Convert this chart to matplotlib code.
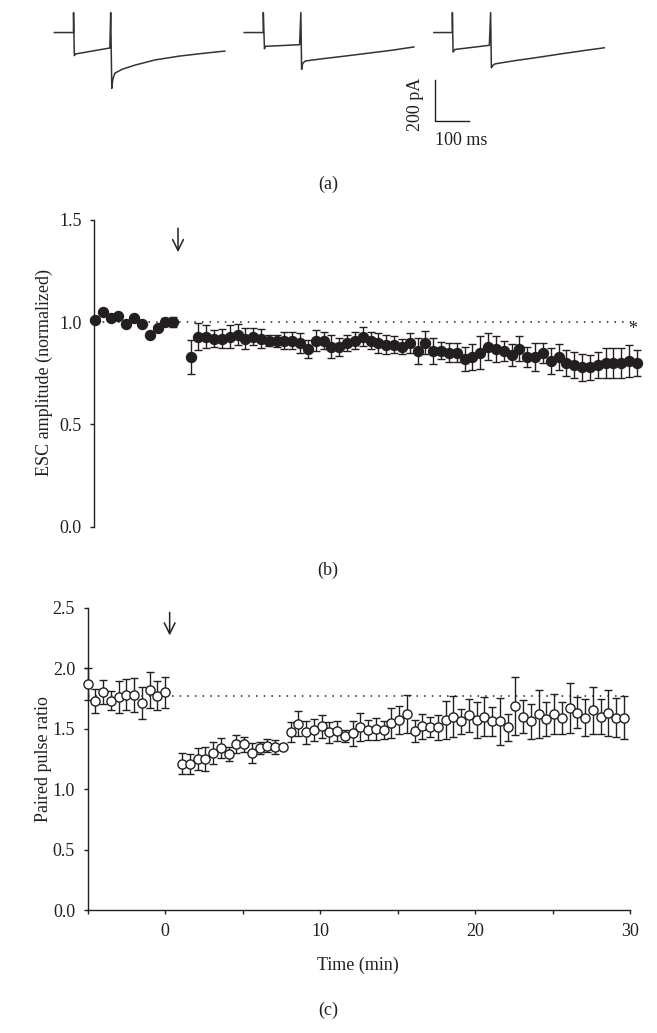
import matplotlib
matplotlib.use('Agg')
import matplotlib.pyplot as plt

plt.rcParams['font.family'] = ['Liberation Serif', 'DejaVu Serif']
plt.rcParams['font.size'] = 13

INK = '#231f20'
W, H = 657, 1033

# (a) example sweeps, vertices: time (ms), current (pA)
trace1_t = [0, 56, 56.3, 58.6, 62, 163, 165.5, 168.7, 172, 178, 200, 237, 296, 369, 443, 501]
trace1_i = [0, 0, 97, -112, -104, -75, 97, -271, -225, -197, -178, -158, -133, -114, -100, -90]
trace2_t = [0, 56, 56.3, 59.7, 62, 163, 166.7, 168.9, 172, 180, 231, 298, 366, 434, 499]
trace2_i = [0, 0, 97, -79, -67, -59, 97, -179, -150, -138, -127, -114, -100, -86, -70]
trace3_t = [0, 54, 54.3, 56.3, 62, 163, 166.7, 169, 173, 180, 236, 304, 372, 439, 501]
trace3_i = [0, 0, 97, -95, -82, -62, 97, -171, -160, -152, -137, -121, -104, -88, -74]
bar_pa = 200
bar_ms = 100

# (b), (c) time points (min)
time_base = [-5.0, -4.5, -4.0, -3.5, -3.0, -2.5, -2.0, -1.5, -1.0, -0.5, 0.0]
time_post = [1.1, 1.6, 2.1, 2.6, 3.1, 3.6, 4.1, 4.6, 5.1, 5.6,
             6.1, 6.6, 7.1, 7.6, 8.1, 8.6, 9.1, 9.6, 10.1, 10.6,
             11.1, 11.6, 12.1, 12.6, 13.1, 13.6, 14.1, 14.6, 15.1, 15.6,
             16.1, 16.6, 17.1, 17.6, 18.1, 18.6, 19.1, 19.6, 20.1, 20.6,
             21.1, 21.6, 22.1, 22.6, 23.1, 23.6, 24.1, 24.6, 25.1, 25.6,
             26.1, 26.6, 27.1, 27.6, 28.1, 28.6, 29.1, 29.6]

# (b) ESC amplitude (normalized), mean and SEM
esc_base = [1.01, 1.05, 1.02, 1.03, 0.99, 1.02, 0.99, 0.94, 0.97, 1.00, 1.00]
esc_base_sem = [0.01, 0.01, 0.01, 0.01, 0.01, 0.01, 0.01, 0.01, 0.01, 0.02, 0.025]
esc_post = [0.83, 0.93, 0.93, 0.92, 0.92, 0.93, 0.94, 0.92, 0.93, 0.92,
            0.91, 0.91, 0.91, 0.91, 0.90, 0.87, 0.91, 0.91, 0.88, 0.88,
            0.90, 0.91, 0.93, 0.91, 0.90, 0.89, 0.89, 0.88, 0.90, 0.86,
            0.90, 0.86, 0.86, 0.85, 0.85, 0.82, 0.83, 0.85, 0.88, 0.87,
            0.86, 0.84, 0.87, 0.83, 0.83, 0.85, 0.81, 0.83, 0.80, 0.79,
            0.78, 0.78, 0.79, 0.80, 0.80, 0.80, 0.81, 0.80]
esc_post_sem = [0.085, 0.066, 0.056, 0.040, 0.046, 0.057, 0.052, 0.050, 0.042, 0.048,
                0.027, 0.030, 0.040, 0.040, 0.049, 0.044, 0.051, 0.043, 0.056, 0.045,
                0.040, 0.041, 0.047, 0.041, 0.049, 0.046, 0.041, 0.036, 0.049, 0.065,
                0.057, 0.062, 0.041, 0.046, 0.046, 0.057, 0.062, 0.081, 0.065, 0.065,
                0.049, 0.052, 0.062, 0.049, 0.068, 0.049, 0.062, 0.065, 0.062, 0.065,
                0.067, 0.062, 0.065, 0.073, 0.073, 0.073, 0.078, 0.062]
esc_ref = 1.0

# (c) paired pulse ratio, mean and SEM
ppr_base = [1.87, 1.73, 1.80, 1.73, 1.76, 1.78, 1.78, 1.71, 1.82, 1.77, 1.80]
ppr_base_sem = [0.13, 0.10, 0.10, 0.08, 0.13, 0.13, 0.14, 0.13, 0.15, 0.12, 0.13]
ppr_post = [1.21, 1.21, 1.25, 1.25, 1.30, 1.34, 1.29, 1.37, 1.37, 1.30,
            1.34, 1.36, 1.35, 1.35, 1.47, 1.54, 1.47, 1.49, 1.52, 1.47,
            1.48, 1.44, 1.46, 1.51, 1.49, 1.50, 1.49, 1.55, 1.57, 1.62,
            1.48, 1.52, 1.51, 1.51, 1.57, 1.60, 1.56, 1.61, 1.57, 1.60,
            1.56, 1.56, 1.51, 1.69, 1.60, 1.56, 1.62, 1.58, 1.62, 1.59,
            1.67, 1.63, 1.59, 1.65, 1.60, 1.63, 1.59, 1.59]
ppr_post_sem = [0.088, 0.082, 0.088, 0.099, 0.093, 0.082, 0.060, 0.074, 0.060, 0.080,
                0.050, 0.055, 0.058, 0.020, 0.082, 0.104, 0.096, 0.093, 0.096, 0.088,
                0.085, 0.047, 0.107, 0.115, 0.082, 0.091, 0.077, 0.124, 0.113, 0.160,
                0.091, 0.102, 0.082, 0.102, 0.154, 0.168, 0.102, 0.135, 0.151, 0.165,
                0.121, 0.195, 0.110, 0.239, 0.140, 0.143, 0.200, 0.137, 0.168, 0.132,
                0.209, 0.129, 0.151, 0.192, 0.146, 0.187, 0.159, 0.176]
ppr_ref = 1.77


def box(left, top, right, bottom):
    # pixel box (from top-left) -> figure fraction rect
    return [left / W, 1 - bottom / H, (right - left) / W, (bottom - top) / H]


def ftext(x, y, s, **kw):
    fig.text(x / W, 1 - y / H, s, color=INK, **kw)


fig = plt.figure(figsize=(W / 100, H / 100), dpi=100)

# ---------- (a) traces ----------
ax_a = fig.add_axes(box(0, 0, W, 200))
ax_a.set_xlim(-160, 1772)
ax_a.set_ylim(-813, 158)
ax_a.axis('off')
gap = 558
for k, (tt, ii) in enumerate([(trace1_t, trace1_i), (trace2_t, trace2_i), (trace3_t, trace3_i)]):
    ax_a.plot([t + k * gap for t in tt], ii, color='#333333', lw=1.1)
x0, y0 = 1119, -428
ax_a.plot([x0, x0, x0 + bar_ms], [y0 + bar_pa, y0, y0], color=INK, lw=1.0)
ax_a.text(x0 - 32, y0 + 81, f'{bar_pa} pA', rotation=90, ha='right', va='center', color=INK)
ax_a.text(x0, y0 - 94, f'{bar_ms} ms', ha='left', va='center', color=INK)
ftext(328, 184, '(a)', ha='center', va='center')


def style_axis(ax):
    for s in ['top', 'right']:
        ax.spines[s].set_visible(False)
    for s in ['left', 'bottom']:
        ax.spines[s].set_color(INK)
        ax.spines[s].set_linewidth(1.0)
    ax.tick_params(direction='out', length=3, width=1.0, colors=INK, pad=6)
    ax.set_yticklabels([f'{v:.1f}' for v in ax.get_yticks()])


arrow_style = dict(arrowstyle='->,head_length=0.6,head_width=0.3', color=INK, lw=1.1,
                   shrinkA=0, shrinkB=0)

# ---------- (b) ESC amplitude ----------
ax_b = fig.add_axes(box(94, 220, 640, 526.7))
ax_b.set_xlim(-5.064, 29.8)
ax_b.set_ylim(0, 1.5)
ax_b.set_yticks([0, 0.5, 1.0, 1.5])
style_axis(ax_b)
ax_b.spines['bottom'].set_visible(False)
ax_b.tick_params(axis='x', bottom=False, labelbottom=False)
ax_b.plot([time_base[0], time_post[-1]], [esc_ref, esc_ref], ls=(0, (1, 4)), color=INK, lw=1.1, zorder=1)
for tt, yy, ee in [(time_base, esc_base, esc_base_sem), (time_post, esc_post, esc_post_sem)]:
    ax_b.errorbar(tt, yy, yerr=ee, fmt='o', color=INK, mfc=INK, mec=INK, ms=7.2,
                  elinewidth=1.0, capsize=2.6, capthick=1.0, clip_on=False, zorder=3)
ax_b.annotate('', xy=(0.3, 1.343), xytext=(0.3, 1.46), arrowprops=arrow_style)
ax_b.text(29.3, 0.965, '*', ha='center', va='center', fontsize=13, color=INK)
ftext(44, 373, 'ESC amplitude (normalized)', rotation=90, ha='center', va='center')
ftext(328, 570, '(b)', ha='center', va='center')

# ---------- (c) paired pulse ratio ----------
ax_c = fig.add_axes(box(87.5, 607.5, 630, 910.3))
ax_c.set_xlim(-5, 30)
ax_c.set_ylim(0, 2.5)
ax_c.set_yticks([0, 0.5, 1.0, 1.5, 2.0, 2.5])
ax_c.set_xticks([-5, 0, 5, 10, 15, 20, 25, 30])
style_axis(ax_c)
ax_c.set_xticklabels(['', '0', '', '10', '', '20', '', '30'])
ax_c.plot([time_base[0], time_post[-1]], [ppr_ref, ppr_ref], ls=(0, (1, 4)), color=INK, lw=1.1, zorder=1)
for tt, yy, ee in [(time_base, ppr_base, ppr_base_sem), (time_post, ppr_post, ppr_post_sem)]:
    ax_c.errorbar(tt, yy, yerr=ee, fmt='o', color=INK, mfc='white', mec=INK, mew=1.0, ms=6.6,
                  elinewidth=1.0, capsize=2.6, capthick=1.0, clip_on=False, zorder=3)
ax_c.annotate('', xy=(0.3, 2.27), xytext=(0.3, 2.46), arrowprops=arrow_style)
ftext(44, 759, 'Paired pulse ratio', rotation=90, ha='center', va='center')
ftext(358, 965, 'Time (min)', ha='center', va='center')
ftext(328, 1010, '(c)', ha='center', va='center')

fig.savefig('out.png', dpi=100)
